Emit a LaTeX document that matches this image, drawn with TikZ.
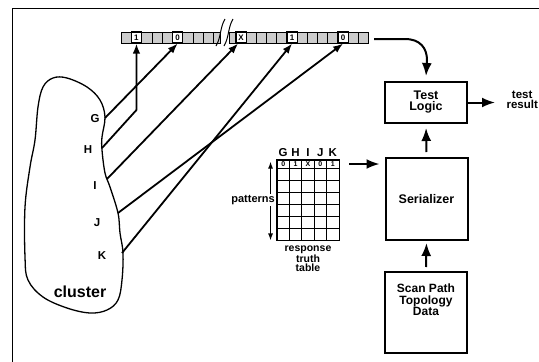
\documentclass[tikz,border=0pt]{standalone}
\usepackage{fontspec}
\setmainfont{Liberation Sans}
\usetikzlibrary{arrows.meta, positioning}

\begin{document}
\begin{tikzpicture}[
    x=1pt, y=-1pt,
    cell/.style={rectangle, draw, line width=0.7pt, fill=black!20, minimum width=10.3pt, minimum height=11pt, inner sep=0pt},
    bitcell/.style={cell, fill=white, line width=1.1pt, font=\bfseries\fontsize{8}{8}\selectfont},
    block/.style={rectangle, draw, line width=2pt, minimum width=82pt, align=center, font=\bfseries\fontsize{12.5}{11}\selectfont},
    pin/.style={font=\bfseries\fontsize{11.5}{12}\selectfont},
    tcell/.style={rectangle, draw, line width=0.9pt, minimum width=12.4pt, minimum height=12pt, inner sep=0pt},
    wire/.style={line width=1.8pt, -{Latex[length=10pt, width=7.5pt]}},
    flow/.style={line width=2pt, -{Latex[length=13pt, width=10pt]}},
]
    \useasboundingbox (0,0) rectangle (539,362);

    % Frame
    \draw[line width=0.9pt] (539,8) -- (12,8) -- (12,362);

    % Scan chain, left part
    \foreach \i in {0,...,8} {
        \node[cell] (l\i) at ({126.15+10.3*\i}, 37.5) {};
    }
    \node[cell, minimum width=7pt] (l9) at (217.2, 37.5) {};
    \node[bitcell] (b1) at (l1) {1};
    \node[bitcell] (b2) at (l5) {0};

    % Scan chain, right part
    \node[cell, minimum width=7pt] (r9) at (232.5, 37.5) {};
    \foreach \j in {0,...,12} {
        \node[cell, minimum width=10.2pt] (r\j) at ({241.1+10.2*\j}, 37.5) {};
    }
    \node[bitcell, minimum width=10.2pt] (b3) at (r0) {X};
    \node[bitcell, minimum width=10.2pt] (b4) at (r5) {1};
    \node[bitcell, minimum width=10.2pt] (b5) at (r10) {0};

    % Break in the chain
    \fill[white] (221,30) rectangle (229,45);
    \draw[line width=1pt] (216,46) .. controls (221,38) and (220,27) .. (225,19);
    \draw[line width=1pt] (224,46) .. controls (229,38) and (228,27) .. (233,19);

    % Cluster
    \draw[line width=1.3pt] plot[smooth cycle, tension=0.6] coordinates {
        (43,87) (53,78) (67,78) (87,87) (100,100) (105,117) (102,137) (102,150)
        (105,173) (110,187) (118,213) (120,233) (123,253) (122,280) (118,300)
        (107,310) (90,313) (67,308) (43,297) (28,280) (25,257) (25,207)
        (30,167) (35,140) (38,107)};
    \node[font=\bfseries\fontsize{16}{16}\selectfont] (clab) at (80,292) {cluster};

    % Pins
    \coordinate (pinG) at (105,118);
    \coordinate (pinH) at (102,148);
    \coordinate (pinI) at (107,179);
    \coordinate (pinJ) at (118,213);
    \coordinate (pinK) at (122,253);
    \node[pin] (gl) at (95,119) {G};
    \node[pin] (hl) at (88,150) {H};
    \node[pin] (il) at (95,186) {I};
    \node[pin] (jl) at (97,223) {J};
    \node[pin] (kl) at (102,256) {K};

    % Pins to chain
    \coordinate (hbend) at (136.45,110);
    \draw[wire] (pinG) -- (b2.south);
    \draw[wire] (pinH) -- (hbend) -- (b1.south);
    \draw[wire] (pinI) -- ([xshift=-3pt]b3.south);
    \draw[wire] (pinJ) -- (b5.south);
    \draw[wire] (pinK) -- (b4.south);

    % Blocks
    \node[block, minimum height=41pt] (tl) at (426,102.5) {Test\\Logic};
    \node[block, minimum height=82pt] (ser) at (426.5,199) {Serializer};
    \node[block, minimum height=81pt, font=\bfseries\fontsize{12}{11.5}\selectfont, text depth=25pt] (spt) at (426,312.5) {Scan Path\\Topology\\Data};
    \node[font=\bfseries\fontsize{11.5}{10.5}\selectfont, align=center, anchor=west] (res) at (503,100) {test\\result};

    % Chain to test logic
    \coordinate (cend) at (374,39);
    \coordinate (cbend) at (405,39);
    \draw[flow] (cend) -- (cbend) .. controls (420,39) and (427,48) .. (427,60) -- ([yshift=5pt]tl.north);

    % Block connections
    \draw[flow, shorten >=4pt, shorten <=5pt] (ser.north) -- (tl.south);
    \draw[flow, shorten >=2pt, shorten <=4pt] (spt.north) -- (ser.south);
    \draw[flow, shorten >=8pt] (tl.east) -- (res.west |- tl.east);

    % Truth table
    \foreach \k/\v/\l in {0/0/G, 1/1/H, 2/X/I, 3/0/J, 4/1/K} {
        \node[tcell, minimum height=8pt, font=\bfseries\fontsize{7}{7}\selectfont] (h\k) at ({283.2+12.4*\k}, 164) {\v};
        \node[pin] (c\k) at ({283.2+12.4*\k}, 153) {\l};
    }
    \foreach \r in {0,...,5} {
        \foreach \k in {0,...,4} {
            \node[tcell] (t\r\k) at ({283.2+12.4*\k}, {174+12*\r}) {};
        }
    }
    \draw[line width=1.5pt] (h0.north west) rectangle (t54.south east);

    % Patterns arrow
    \draw[line width=1.1pt, {Latex[length=7pt, width=5pt]}-{Latex[length=7pt, width=5pt]}]
        ([xshift=-6pt, yshift=-2pt]h0.north west) -- ([xshift=-6pt]t50.south west);
    \node[font=\bfseries\fontsize{11}{11}\selectfont, fill=white, inner sep=1pt, anchor=east] (pat) at (276,200) {patterns};
    \node[font=\bfseries\fontsize{10.5}{9.5}\selectfont, align=center] (rtt) at (308,259) {response\\truth\\table};

    % Table to serializer
    \draw[flow, shorten <=10pt, shorten >=5pt] (h4.east) -- (ser.west |- h4.east);
\end{tikzpicture}
\end{document}
